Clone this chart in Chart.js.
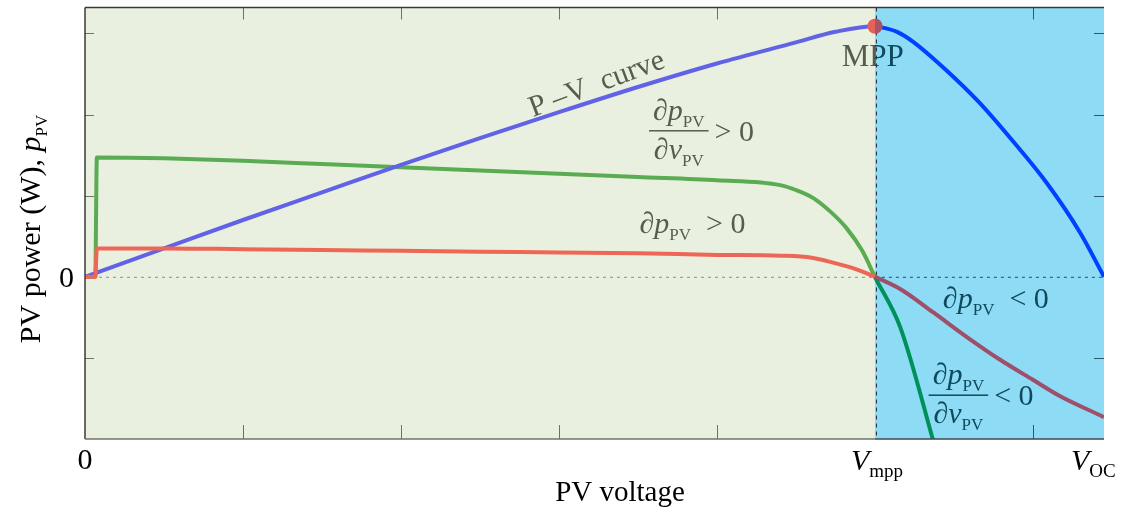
<!DOCTYPE html>
<html>
<head>
<meta charset="utf-8">
<script src="https://cdn.jsdelivr.net/npm/chart.js@4/dist/chart.umd.min.js"></script>
<style>
  html, body { margin: 0; padding: 0; background: #fff; }
  #wrap { width: 1135px; height: 513px; position: relative; }
</style>
</head>
<body>
<div id="wrap"><canvas id="pvChart"></canvas></div>
<script>
// P-V curve and its derivative sketches (arbitrary units)
const pvVoltage = [0, 0.5, 1, 1.5, 2, 2.5, 3, 3.5, 4, 4.5, 4.75, 5, 5.03, 5.14, 5.24, 5.45, 5.66, 5.87, 6.09, 6.3, 6.45];
const pvPower   = [0, 0.35, 0.70, 1.04, 1.38, 1.71, 2.03, 2.34, 2.63, 2.89, 3.02, 3.09, 3.08, 3.02, 2.90, 2.55, 2.15, 1.68, 1.15, 0.54, 0];

const dpdvVoltage = [0, 0.065, 0.075, 0.5, 1, 1.5, 2, 2.5, 3, 3.5, 4, 4.4, 4.5, 4.61, 4.72, 4.82, 4.92, 5, 5.16, 5.36, 5.42];
const dpdvValue   = [0, 0, 1.47, 1.46, 1.43, 1.39, 1.35, 1.31, 1.27, 1.23, 1.19, 1.13, 1.07, 0.97, 0.80, 0.60, 0.32, 0, -0.62, -1.96, -2.4];

const dpVoltage = [0, 0.065, 0.075, 0.5, 1, 1.5, 2, 2.5, 3, 3.5, 4, 4.4, 4.6, 4.8, 4.9, 5, 5.16, 5.37, 5.58, 5.79, 6.0, 6.17, 6.45];
const dpValue   = [0, 0, 0.35, 0.35, 0.34, 0.33, 0.32, 0.31, 0.30, 0.29, 0.27, 0.26, 0.235, 0.14, 0.08, 0, -0.15, -0.44, -0.74, -1.02, -1.27, -1.47, -1.73];

const mppVoltage = [5];
const mppPower = [3.09];

const voltageTicks = [1, 2, 3, 4, 5, 6];
const powerTicks = [-1, 0, 1, 2, 3];
const V_MPP = 5;
const V_OC = 6.45;

const toPoints = (xs, ys) => xs.map((x, i) => ({ x: x, y: ys[i] }));

// colours change once the curve enters the blue (right of MPP) region
const splitColor = (left, right) => ctx => (ctx.p0.parsed.x >= V_MPP - 1e-6 ? right : left);

const SERIF = '"Liberation Serif", "DejaVu Serif", serif';

function fontFor(st, size) {
  if (st === "s") return `${Math.round(size * 0.57)}px ${SERIF}`;
  if (st === "S") return `${Math.round(size * 0.63)}px ${SERIF}`;
  return `${st === "i" ? "italic " : ""}${size}px ${SERIF}`;
}

function drawRuns(ctx, x, y, runs, size) {
  // runs: [text, style] style: r = roman, i = italic, s/S = subscript
  let cx = x;
  runs.forEach(([t, st]) => {
    ctx.font = fontFor(st, size);
    const dy = (st === "s" || st === "S") ? size * 0.24 : 0;
    ctx.fillText(t, cx, y + dy);
    cx += ctx.measureText(t).width;
  });
  return cx - x;
}

function runsWidth(ctx, runs, size) {
  let w = 0;
  runs.forEach(([t, st]) => {
    ctx.font = fontFor(st, size);
    w += ctx.measureText(t).width;
  });
  return w;
}

const regionPlugin = {
  id: "regions",
  beforeDatasetsDraw(chart) {
    const { ctx, chartArea: a, scales: { x } } = chart;
    const xm = x.getPixelForValue(V_MPP);
    ctx.save();
    ctx.fillStyle = "#e9f0e0";
    ctx.fillRect(a.left, a.top, xm - a.left, a.bottom - a.top);
    ctx.fillStyle = "#8edbf6";
    ctx.fillRect(xm, a.top, a.right - xm, a.bottom - a.top);

    // zero line
    const y0 = chart.scales.y.getPixelForValue(0);
    ctx.lineWidth = 1;
    ctx.setLineDash([3, 4]);
    ctx.strokeStyle = "#8a8f82";
    ctx.beginPath(); ctx.moveTo(a.left, y0 + 0.5); ctx.lineTo(xm, y0 + 0.5); ctx.stroke();
    ctx.strokeStyle = "#2a4a5a";
    ctx.beginPath(); ctx.moveTo(xm, y0 + 0.5); ctx.lineTo(a.right, y0 + 0.5); ctx.stroke();
    // V_mpp line
    ctx.setLineDash([4, 4]);
    ctx.strokeStyle = "#1a2a3a";
    ctx.beginPath(); ctx.moveTo(xm + 1.5, a.top); ctx.lineTo(xm + 1.5, a.bottom); ctx.stroke();
    ctx.restore();
  },
  afterDatasetsDraw(chart) {
    const { ctx, chartArea: a, scales: { x, y } } = chart;
    const xm = x.getPixelForValue(V_MPP);
    ctx.save();

    // MPP marker, darker half over the blue region
    const mp = chart.getDatasetMeta(3).data[0];
    ctx.beginPath(); ctx.rect(xm, 0, chart.width, chart.height); ctx.clip();
    ctx.fillStyle = "#a55566";
    ctx.beginPath(); ctx.arc(mp.x, mp.y, 7.5, 0, Math.PI * 2); ctx.fill();
    ctx.restore();
    ctx.save();

    // inward ticks
    ctx.lineWidth = 1;
    powerTicks.forEach(v => {
      if (v === 0) return;
      const py = Math.round(y.getPixelForValue(v)) + 0.5;
      ctx.strokeStyle = "#6c7264";
      ctx.beginPath(); ctx.moveTo(a.left, py); ctx.lineTo(a.left + 9, py); ctx.stroke();
      ctx.strokeStyle = "#2a5a6a";
      ctx.beginPath(); ctx.moveTo(a.right, py); ctx.lineTo(a.right - 10, py); ctx.stroke();
    });
    voltageTicks.forEach(v => {
      if (v === V_MPP) return;
      const px = Math.round(x.getPixelForValue(v)) + 0.5;
      ctx.strokeStyle = v > V_MPP ? "#2a5a6a" : "#6c7264";
      ctx.beginPath(); ctx.moveTo(px, a.top); ctx.lineTo(px, a.top + 12); ctx.stroke();
      ctx.beginPath(); ctx.moveTo(px, a.bottom); ctx.lineTo(px, a.bottom - 14); ctx.stroke();
    });

    // frame
    ctx.lineWidth = 1.5;
    ctx.strokeStyle = "#3a3a3a";
    ctx.beginPath(); ctx.moveTo(a.left, a.top); ctx.lineTo(a.right, a.top); ctx.stroke();
    ctx.beginPath(); ctx.moveTo(a.left, a.top); ctx.lineTo(a.left, a.bottom); ctx.stroke();
    ctx.strokeStyle = "#6f7566";
    ctx.beginPath(); ctx.moveTo(a.left, a.bottom); ctx.lineTo(xm, a.bottom); ctx.stroke();
    ctx.strokeStyle = "#3a4a50";
    ctx.beginPath(); ctx.moveTo(xm, a.bottom); ctx.lineTo(a.right, a.bottom); ctx.stroke();

    const at = (v, p) => [x.getPixelForValue(v), y.getPixelForValue(p)];
    const size = 30;
    ctx.textBaseline = "alphabetic";
    ctx.textAlign = "left";

    // annotations in the green region
    ctx.fillStyle = "#565d4c";
    let [tx, ty] = at(3.24, 2.37);
    ctx.save();
    ctx.translate(tx, ty);
    ctx.rotate(-20.5 * Math.PI / 180);
    ctx.font = `${size}px ${SERIF}`;
    ctx.textAlign = "center";
    ctx.textBaseline = "middle";
    ctx.fillText("P \u2013V  curve", 0, 0);
    ctx.restore();

    const num = [["\u2202", "r"], ["p", "i"], ["PV", "s"]];
    const den = [["\u2202", "r"], ["v", "i"], ["PV", "s"]];
    const drawFrac = (v, p, rel) => {
      const [bx, by] = at(v, p);
      const wN = runsWidth(ctx, num, size), wD = runsWidth(ctx, den, size);
      const bw = Math.max(wN, wD) + 8;
      drawRuns(ctx, bx + (bw - wN) / 2, by - 11, num, size);
      drawRuns(ctx, bx + (bw - wD) / 2, by + 28, den, size);
      ctx.fillRect(bx, by - 0.75, bw, 1.5);
      drawRuns(ctx, bx + bw + 6, by + 10, [[rel + " 0", "r"]], size);
    };
    drawFrac(3.57, 1.80, ">");
    [tx, ty] = at(3.51, 0.54);
    drawRuns(ctx, tx, ty, [["\u2202", "r"], ["p", "i"], ["PV", "s"], ["  > 0", "r"]], size);

    // annotations in the blue region
    ctx.fillStyle = "#0f4a5c";
    [tx, ty] = at(5.43, -0.38);
    drawRuns(ctx, tx, ty, [["\u2202", "r"], ["p", "i"], ["PV", "s"], ["  < 0", "r"]], size);
    drawFrac(5.34, -1.46, "<");

    // MPP text straddles both regions
    [tx, ty] = at(4.79, 2.6);
    ctx.font = `31px ${SERIF}`;
    ctx.save();
    ctx.beginPath(); ctx.rect(0, 0, xm, chart.height); ctx.clip();
    ctx.fillStyle = "#565d4c"; ctx.fillText("MPP", tx, ty);
    ctx.restore();
    ctx.save();
    ctx.beginPath(); ctx.rect(xm, 0, chart.width, chart.height); ctx.clip();
    ctx.fillStyle = "#0f4a5c"; ctx.fillText("MPP", tx, ty);
    ctx.restore();

    // tick labels and axis titles
    ctx.fillStyle = "#000";
    ctx.font = `${size}px ${SERIF}`;
    ctx.textAlign = "right";
    ctx.fillText("0", a.left - 11, y.getPixelForValue(0) + 10);
    ctx.textAlign = "center";
    ctx.fillText("0", x.getPixelForValue(0), a.bottom + 30);
    ctx.textAlign = "left";
    drawRuns(ctx, x.getPixelForValue(V_MPP) - 24, a.bottom + 31, [["V", "i"], ["mpp", "S"]], size);
    drawRuns(ctx, x.getPixelForValue(V_OC) - 33, a.bottom + 31, [["V", "i"], ["OC", "S"]], size);

    ctx.font = `29px ${SERIF}`;
    ctx.textAlign = "center";
    ctx.fillText("PV voltage", 620, 501);

    const yt = [["PV power (W), ", "r"], ["p", "i"], ["PV", "s"]];
    const yw = runsWidth(ctx, yt, 30);
    ctx.save();
    ctx.translate(40, 229);
    ctx.rotate(-Math.PI / 2);
    ctx.textAlign = "left";
    drawRuns(ctx, -yw / 2, 0, yt, 30);
    ctx.restore();

    ctx.restore();
  }
};

const ctx = document.getElementById("pvChart").getContext("2d");
new Chart(ctx, {
  type: "line",
  data: {
    datasets: [
      {
        label: "P-V curve",
        data: toPoints(pvVoltage, pvPower),
        borderWidth: 4,
        borderColor: "#6262e6",
        segment: { borderColor: splitColor("#6262e6", "#0040ff") },
        cubicInterpolationMode: "monotone",
        pointRadius: 0,
        order: 3
      },
      {
        label: "dp/dv",
        data: toPoints(dpdvVoltage, dpdvValue),
        borderWidth: 4,
        borderColor: "#5aac52",
        segment: { borderColor: splitColor("#5aac52", "#00915a") },
        cubicInterpolationMode: "monotone",
        pointRadius: 0,
        clip: { left: 2, top: 2, right: 0, bottom: 0 },
        order: 4
      },
      {
        label: "dp",
        data: toPoints(dpVoltage, dpValue),
        borderWidth: 4,
        borderColor: "#ee6656",
        segment: { borderColor: splitColor("#ee6656", "#9e4f6a") },
        cubicInterpolationMode: "monotone",
        pointRadius: 0,
        order: 2
      },
      {
        label: "MPP",
        data: toPoints(mppVoltage, mppPower),
        showLine: false,
        pointRadius: 7.5,
        pointBackgroundColor: "#e8605a",
        pointBorderWidth: 0,
        order: 1
      }
    ]
  },
  options: {
    responsive: true,
    maintainAspectRatio: false,
    animation: false,
    layout: { padding: { left: 85, right: 31, top: 4, bottom: 74 } },
    plugins: { legend: { display: false }, tooltip: { enabled: false } },
    scales: {
      x: { type: "linear", min: 0, max: V_OC, display: false },
      y: { type: "linear", min: -2, max: 3.32, display: false }
    }
  },
  plugins: [regionPlugin]
});
</script>
</body>
</html>
